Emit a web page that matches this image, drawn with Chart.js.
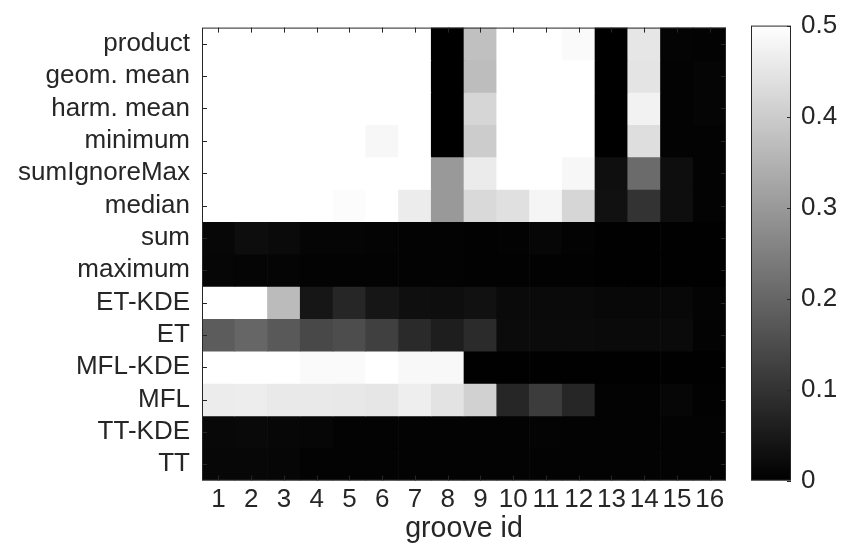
<!DOCTYPE html>
<html>
<head>
<meta charset="utf-8">
<script src="https://cdn.jsdelivr.net/npm/chart.js@4.4.0/dist/chart.umd.min.js"></script>
<style>
  html, body { margin: 0; padding: 0; background: #ffffff; }
  #wrap { position: relative; width: 850px; height: 551px; }
  canvas { position: absolute; left: 0; top: 0; }
</style>
</head>
<body>
<div id="wrap">
  <canvas id="heat" width="850" height="551"></canvas>
  <canvas id="cbar" width="850" height="551"></canvas>
</div>
<script>
// ---- data ----
const grooveIds = ['1','2','3','4','5','6','7','8','9','10','11','12','13','14','15','16'];
const methods = ['product','geom. mean','harm. mean','minimum','sumIgnoreMax','median','sum','maximum','ET-KDE','ET','MFL-KDE','MFL','TT-KDE','TT'];

const productVals      = [0.5,0.5,0.5,0.5,0.5,0.5,0.5,0,0.377,0.5,0.5,0.49,0,0.45,0.008,0.006];
const geomMeanVals     = [0.5,0.5,0.5,0.5,0.5,0.5,0.5,0,0.37,0.5,0.5,0.5,0,0.447,0.006,0.01];
const harmMeanVals     = [0.5,0.5,0.5,0.5,0.5,0.5,0.5,0,0.42,0.5,0.5,0.5,0,0.475,0.005,0.01];
const minimumVals      = [0.5,0.5,0.5,0.5,0.5,0.485,0.5,0,0.40,0.5,0.5,0.5,0,0.435,0.005,0.006];
const sumIgnoreMaxVals = [0.5,0.5,0.5,0.5,0.5,0.5,0.5,0.30,0.46,0.5,0.5,0.485,0.03,0.21,0.028,0.005];
const medianVals       = [0.5,0.5,0.5,0.5,0.495,0.5,0.463,0.30,0.425,0.44,0.48,0.42,0.033,0.1,0.028,0.005];
const sumVals          = [0.014,0.025,0.02,0.01,0.01,0.008,0.006,0.006,0.004,0.006,0.012,0.006,0.002,0.002,0.002,0.002];
const maximumVals      = [0.012,0.01,0.01,0.006,0.006,0.006,0.005,0.005,0.004,0.004,0.004,0.004,0.002,0.002,0.002,0.002];
const etKdeVals        = [0.5,0.5,0.367,0.043,0.075,0.043,0.03,0.027,0.033,0.02,0.02,0.02,0.016,0.016,0.016,0.008];
const etVals           = [0.18,0.2,0.175,0.141,0.15,0.125,0.082,0.059,0.084,0.022,0.022,0.022,0.02,0.02,0.02,0.006];
const mflKdeVals       = [0.5,0.5,0.5,0.49,0.49,0.5,0.487,0.487,0.002,0.002,0.002,0.002,0.002,0.002,0.002,0.002];
const mflVals          = [0.463,0.465,0.457,0.457,0.455,0.45,0.467,0.445,0.41,0.075,0.118,0.075,0.006,0.006,0.012,0.004];
const ttKdeVals        = [0.016,0.018,0.014,0.012,0.006,0.006,0.006,0.006,0.006,0.006,0.008,0.006,0.006,0.006,0.006,0.006];
const ttVals           = [0.014,0.014,0.012,0.006,0.006,0.006,0.006,0.006,0.006,0.006,0.006,0.006,0.006,0.006,0.006,0.006];

const colorTicks = [0, 0.1, 0.2, 0.3, 0.4, 0.5];
const cMin = 0, cMax = 0.5;

const rowsValues = [productVals, geomMeanVals, harmMeanVals, minimumVals, sumIgnoreMaxVals, medianVals,
  sumVals, maximumVals, etKdeVals, etVals, mflKdeVals, mflVals, ttKdeVals, ttVals];

// ---- styling ----
const FONT = "'Liberation Sans', Arial, Helvetica, sans-serif";
const TXT = '#262626';
const AXC = '#262626';
const TICK_SIZE = 26;
const LABEL_SIZE = 28.6;

function grayFor(v) {
  const t = Math.max(0, Math.min(1, (v - cMin) / (cMax - cMin)));
  const g = Math.round(t * 255);
  return `rgb(${g},${g},${g})`;
}

// frame + inward ticks like MATLAB axes
const matlabAxes = {
  id: 'matlabAxes',
  afterDraw(chart, args, opts) {
    const { ctx, chartArea: a } = chart;
    ctx.save();
    ctx.strokeStyle = AXC;
    ctx.lineWidth = 1;
    const L = opts.len || 5;
    ctx.beginPath();
    (opts.xScales || []).forEach(id => {
      const s = chart.scales[id];
      s.ticks.forEach((t, i) => {
        const x = Math.round(s.getPixelForTick(i)) + 0.5;
        ctx.moveTo(x, a.bottom); ctx.lineTo(x, a.bottom - L);
        ctx.moveTo(x, a.top); ctx.lineTo(x, a.top + L);
      });
    });
    (opts.yScales || []).forEach(id => {
      const s = chart.scales[id];
      s.ticks.forEach(t => {
        const y = Math.round(s.getPixelForValue(t.value)) + 0.5;
        if (opts.leftTicks !== false) { ctx.moveTo(a.left, y); ctx.lineTo(a.left + L, y); }
        ctx.moveTo(a.right, y); ctx.lineTo(a.right - L, y);
      });
    });
    ctx.stroke();
    ctx.strokeStyle = opts.frameColor || AXC;
    ctx.strokeRect(a.left + 0.5, a.top + 0.5, a.right - a.left - 1, a.bottom - a.top - 1);
    ctx.restore();
  }
};

// ---- heatmap ----
const datasets = methods.map((m, r) => ({
  label: m,
  data: rowsValues[r].map(() => [r - 0.5, r + 0.5]),
  backgroundColor: rowsValues[r].map(grayFor),
  borderWidth: 0,
  grouped: false,
  barPercentage: 1,
  categoryPercentage: 1
}));

new Chart(document.getElementById('heat'), {
  type: 'bar',
  data: { labels: grooveIds, datasets },
  options: {
    responsive: false,
    animation: false,
    layout: { padding: { left: 0, top: 22, right: 124, bottom: 0 } },
    plugins: {
      legend: { display: false },
      tooltip: { enabled: false },
      matlabAxes: { xScales: ['x'], yScales: ['y'], len: 5 }
    },
    scales: {
      x: {
        type: 'category',
        offset: true,
        grid: { display: false, drawTicks: false },
        border: { display: false },
        ticks: { color: TXT, font: { family: FONT, size: TICK_SIZE }, padding: 4, maxRotation: 0, autoSkip: false },
        title: { display: true, text: 'groove id', color: TXT, font: { family: FONT, size: LABEL_SIZE }, padding: { top: 0, bottom: 5 } },
        afterFit(s) { s.height = 70.5; }
      },
      y: {
        type: 'linear',
        min: -0.5,
        max: methods.length - 0.5,
        reverse: true,
        grid: { display: false, drawTicks: false },
        border: { display: false },
        afterBuildTicks(s) { s.ticks = methods.map((_, i) => ({ value: i })); },
        ticks: {
          color: TXT, font: { family: FONT, size: TICK_SIZE }, padding: 12,
          callback: v => methods[v]
        },
        afterFit(s) { s.width = 202; }
      }
    }
  },
  plugins: [matlabAxes]
});

// ---- colorbar ----
new Chart(document.getElementById('cbar'), {
  type: 'bar',
  data: {
    labels: [''],
    datasets: [{
      data: [[cMin, cMax]],
      backgroundColor(ctx) {
        const c = ctx.chart, a = c.chartArea;
        if (!a) return '#000';
        const g = c.ctx.createLinearGradient(0, a.bottom, 0, a.top);
        g.addColorStop(0, '#000000');
        g.addColorStop(1, '#ffffff');
        return g;
      },
      borderWidth: 0,
      barPercentage: 1,
      categoryPercentage: 1
    }]
  },
  options: {
    responsive: false,
    animation: false,
    layout: { padding: { left: 751, top: 22, right: 0, bottom: 70.5 } },
    plugins: {
      legend: { display: false },
      tooltip: { enabled: false },
      matlabAxes: { xScales: [], yScales: ['y'], len: 4, leftTicks: false }
    },
    scales: {
      x: { display: false },
      y: {
        position: 'right',
        min: cMin, max: cMax,
        grid: { display: false, drawTicks: false },
        border: { display: false },
        afterBuildTicks(s) { s.ticks = colorTicks.map(v => ({ value: v })); },
        ticks: {
          color: TXT, font: { family: FONT, size: TICK_SIZE }, padding: 10,
          callback: v => String(v)
        },
        afterFit(s) { s.width = 59; }
      }
    }
  },
  plugins: [matlabAxes]
});
</script>
</body>
</html>
